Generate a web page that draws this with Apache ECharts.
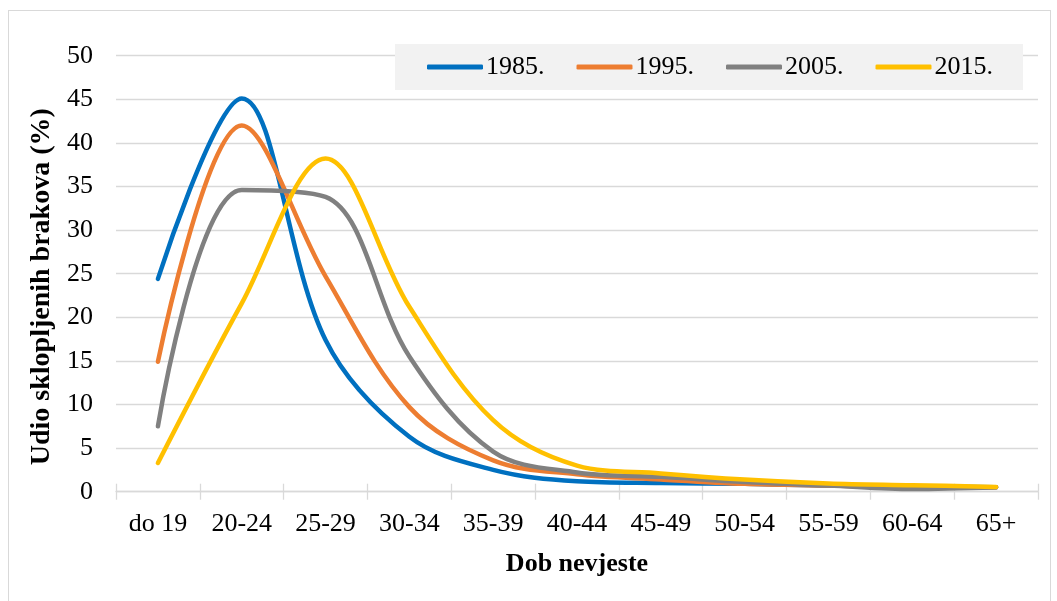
<!DOCTYPE html>
<html>
<head>
<meta charset="utf-8">
<script src="https://cdn.jsdelivr.net/npm/echarts@6/dist/echarts.min.js"></script>
<style>
    html, body { margin: 0; padding: 0; background: #fff; }
    #chart { position: absolute; left: 0; top: 0; width: 1057px; height: 601px; }
    #frame { position: absolute; left: 8px; top: 10px; width: 1041px; height: 600px; border: 1px solid #d9d9d9; pointer-events: none; }
</style>
</head>
<body>
<div id="chart"></div>
<div id="frame"></div>
<script>
// Dob nevjeste – udio sklopljenih brakova (%)
const ageGroups = ['do 19', '20-24', '25-29', '30-34', '35-39', '40-44', '45-49', '50-54', '55-59', '60-64', '65+'];
const yearNames = ['1985.', '1995.', '2005.', '2015.'];
const y1985 = [24.4, 45.1, 17.4, 6.3, 2.5, 1.2, 1.0, 0.9, 0.7, 0.6, 0.5];
const y1995 = [14.9, 42.0, 24.7, 9.7, 3.6, 2.0, 1.4, 0.9, 0.7, 0.5, 0.5];
const y2005 = [7.5, 34.6, 33.8, 15.5, 4.6, 2.2, 1.7, 1.1, 0.7, 0.3, 0.5];
const y2015 = [3.3, 21.6, 38.2, 21.2, 8.2, 3.0, 2.1, 1.4, 0.95, 0.75, 0.55];
const yTicks = { min: 0, max: 50, interval: 5 };

const colors = ['#0070c0', '#ed7d31', '#808080', '#ffc000'];
const font = '"Liberation Serif", "Times New Roman", serif';
const gridColor = '#d9d9d9';

const chart = echarts.init(document.getElementById('chart'), null, { renderer: 'canvas' });

chart.setOption({
    animation: false,
    textStyle: { fontFamily: font, color: '#000' },
    legend: {
        data: yearNames,
        left: 395,
        top: 44,
        padding: [10, 30, 10, 32],
        backgroundColor: '#f2f2f2',
        icon: 'roundRect',
        itemWidth: 56,
        itemHeight: 5,
        itemGap: 32,
        textStyle: { fontFamily: font, fontSize: 26, color: '#000', padding: [0, 0, 0, -2] }
    },
    grid: { left: 116, right: 19, top: 55.7, bottom: 109.3, containLabel: false },
    xAxis: [{
        type: 'category',
        data: ageGroups,
        boundaryGap: true,
        name: 'Dob nevjeste',
        nameLocation: 'middle',
        nameGap: 60,
        nameTextStyle: { fontFamily: font, fontSize: 26, fontWeight: 'bold', color: '#000' },
        axisLine: { lineStyle: { color: gridColor, width: 1.3 } },
        axisTick: { show: true, length: 8, lineStyle: { color: gridColor, width: 1.3 } },
        axisLabel: { fontFamily: font, fontSize: 26, color: '#000', margin: 19, interval: 0 }
    }, {
        type: 'category',
        data: ageGroups,
        position: 'bottom',
        boundaryGap: true,
        axisLine: { show: false },
        axisTick: { show: true, inside: true, length: 8, lineStyle: { color: gridColor, width: 1.3 } },
        axisLabel: { show: false }
    }],
    yAxis: {
        type: 'value',
        min: yTicks.min,
        max: yTicks.max,
        interval: yTicks.interval,
        name: 'Udio sklopljenih brakova (%)',
        nameLocation: 'middle',
        nameGap: 58,
        nameTextStyle: { fontFamily: font, fontSize: 28, fontWeight: 'bold', color: '#000', padding: [0, 0, 0, -26] },
        axisLine: { show: false },
        axisTick: { show: false },
        axisLabel: { fontFamily: font, fontSize: 26, color: '#000', margin: 23 },
        splitLine: { lineStyle: { color: gridColor, width: 1.3 } }
    },
    series: [y1985, y1995, y2005, y2015].map((data, i) => ({
        name: yearNames[i],
        type: 'line',
        data: data,
        smooth: 0.35,
        symbol: 'none',
        lineStyle: { color: colors[i], width: 4.5, cap: 'round', join: 'round' },
        itemStyle: { color: colors[i] },
        z: 2 + i
    }))
});
</script>
</body>
</html>
